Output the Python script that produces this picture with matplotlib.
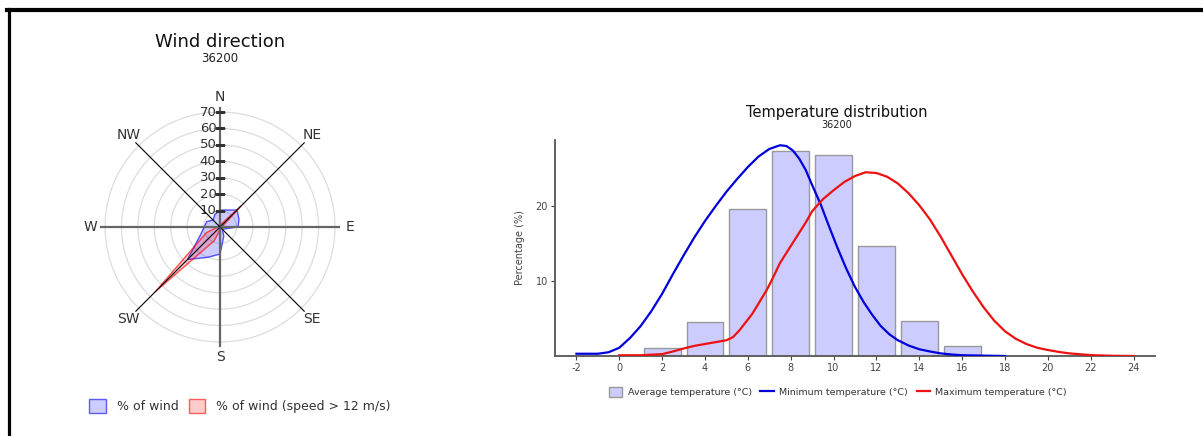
import numpy as np
import matplotlib
matplotlib.use('Agg')
import matplotlib.pyplot as plt
from matplotlib.lines import Line2D
from matplotlib.patches import Patch

plt.rcParams['axes.unicode_minus'] = False

# ---
# Data
# ---
station = '36200'

# wind rose, 16 sectors, % of observations
directions = ['N', 'NNE', 'NE', 'ENE', 'E', 'ESE', 'SE', 'SSE',
              'S', 'SSW', 'SW', 'WSW', 'W', 'WNW', 'NW', 'NNW']
wind_pct = [10.3, 11.2, 14.6, 12.5, 11.0, 3.0, 2.0, 6.0,
            16.5, 20.0, 28.0, 13.0, 9.7, 8.7, 6.0, 8.3]
strong_wind_pct = [1.5, 2.0, 18.5, 2.0, 1.5, 1.0, 1.0, 1.0,
                   1.5, 9.0, 56.0, 9.0, 1.5, 1.0, 1.0, 1.5]
compass = ['N', 'NE', 'E', 'SE', 'S', 'SW', 'W', 'NW']
rings = [10, 20, 30, 40, 50, 60, 70]

# temperature distribution
avg_temp_bins = [2, 4, 6, 8, 10, 12, 14, 16]
avg_temp_pct = [1.1, 4.6, 19.6, 27.3, 26.8, 14.7, 4.7, 1.3]

min_temp_x = [-2.0, -1.5, -1.0, -0.5, 0.0, 0.5, 1.0, 1.5, 2.0, 2.5, 3.0, 3.5,
              4.0, 4.5, 5.0, 5.5, 6.0, 6.5, 7.0, 7.5, 7.8, 8.1, 8.4, 8.7,
              9.0, 9.4, 9.8, 10.2, 10.6, 11.0, 11.4, 11.8, 12.2, 12.6, 13.0,
              13.5, 14.0, 14.5, 15.0, 15.5, 16.0, 17.0, 18.0]
min_temp_y = [0.3, 0.3, 0.3, 0.5, 1.1, 2.4, 4.0, 6.0, 8.3, 10.9, 13.4, 15.8,
              18.0, 20.0, 21.9, 23.6, 25.2, 26.6, 27.6, 28.1, 28.0, 27.4, 26.3, 24.8,
              22.8, 20.2, 17.2, 14.3, 11.6, 9.2, 7.2, 5.5, 4.0, 2.9, 2.1,
              1.4, 0.9, 0.6, 0.35, 0.2, 0.1, 0.05, 0.0]

max_temp_x = [0.0, 1.0, 2.0, 2.5, 3.0, 3.5, 4.0, 4.5, 5.0, 5.3, 5.6, 5.9, 6.2,
              6.5, 6.9, 7.2, 7.5, 7.9, 8.3, 8.7, 9.0, 9.5, 10.0, 10.5, 11.0,
              11.5, 12.0, 12.5, 13.0, 13.5, 14.0, 14.5, 15.0, 15.5, 16.0, 16.5,
              17.0, 17.5, 18.0, 18.5, 19.0, 19.5, 20.0, 20.5, 21.0, 22.0, 23.0, 24.0]
max_temp_y = [0.1, 0.1, 0.25, 0.6, 1.0, 1.35, 1.6, 1.85, 2.1, 2.5, 3.4, 4.5, 5.6,
              7.0, 8.9, 10.6, 12.4, 14.2, 16.0, 17.8, 19.3, 20.9, 22.1, 23.2, 24.0,
              24.5, 24.4, 23.9, 23.0, 21.7, 20.1, 18.2, 15.9, 13.4, 10.9, 8.6,
              6.5, 4.7, 3.3, 2.3, 1.6, 1.1, 0.8, 0.55, 0.35, 0.12, 0.03, 0.0]

fig = plt.figure(figsize=(12.03, 4.36), dpi=100)

# ---
# Wind rose
# ---
ax = fig.add_axes([0.0805, 0.1968, 0.2048, 0.5651], projection='polar')
ax.set_theta_zero_location('N')
ax.set_theta_direction(-1)
ax.set_ylim(0, 75)
ax.set_xticks([])
ax.set_yticks([])
ax.grid(False)
ax.spines['polar'].set_visible(False)
ax.patch.set_alpha(0)

full = np.linspace(0, 2 * np.pi, 361)
for r in rings:
    ax.plot(full, np.full_like(full, r), color='#dddddd', lw=0.9, zorder=1)

theta = np.deg2rad(np.arange(len(directions)) * 360 / len(directions))
theta_c = np.append(theta, theta[0])
wind_c = np.append(wind_pct, wind_pct[0])
strong_c = np.append(strong_wind_pct, strong_wind_pct[0])
ax.fill(theta_c, wind_c, facecolor=(0, 0, 1, 0.2), edgecolor=(0, 0, 1, 0.65), lw=1, zorder=3)
ax.fill(theta_c, strong_c, facecolor=(1, 0, 0, 0.2), edgecolor=(1, 0, 0, 0.65), lw=1, zorder=4)

spoke_r = 72.5
for i, name in enumerate(compass):
    a = np.deg2rad(i * 45)
    if i % 2 == 0:
        ax.plot([a, a], [0, spoke_r], color='#666666', lw=1.6, zorder=5)
    else:
        ax.plot([a, a], [0, spoke_r], color='black', lw=0.8, zorder=5)
    ax.text(a, 79, name, ha='center', va='center', fontsize=10, color='#333333')

for r in rings:
    ax.plot([0], [r], marker='_', markersize=7, markeredgewidth=0.9, color='#333333', zorder=6)
    ax.annotate(str(r), xy=(0, r), xytext=(-2.5, 0), textcoords='offset points',
                ha='right', va='center', fontsize=9.5, color='#333333')

fig.text(220 / 1203, 1 - 42 / 436, 'Wind direction', ha='center', va='center', fontsize=13, color='#111111')
fig.text(220 / 1203, 1 - 58 / 436, station, ha='center', va='center', fontsize=8.5, color='#222222')

wind_handles = [Patch(facecolor=(0, 0, 1, 0.2), edgecolor=(0, 0, 1, 0.6), label='% of wind'),
                Patch(facecolor=(1, 0, 0, 0.2), edgecolor=(1, 0, 0, 0.6), label='% of wind (speed > 12 m/s)')]
fig.legend(handles=wind_handles, loc='center', bbox_to_anchor=(240 / 1203, 1 - 406 / 436),
           ncol=2, frameon=False, fontsize=9, handlelength=1.3, handleheight=1.3,
           handletextpad=0.9, columnspacing=0.8, labelcolor='#333333')

# ---
# Temperature distribution
# ---
ax2 = fig.add_axes([555 / 1203, 1 - 356 / 436, 600 / 1203, 216 / 436])
ax2.bar(avg_temp_bins, avg_temp_pct, width=1.72, color='#ccccff', edgecolor='#999999', lw=1, zorder=2)
ax2.plot(min_temp_x, min_temp_y, color='#0000dd', lw=1.6, zorder=3)
ax2.plot(max_temp_x, max_temp_y, color='#ee1111', lw=1.6, zorder=3)
ax2.set_xlim(-3, 25)
ax2.set_ylim(0, 28.8)
ax2.set_xticks(range(-2, 25, 2))
ax2.set_yticks([10, 20])
for s in ['top', 'right']:
    ax2.spines[s].set_visible(False)
for s in ['left', 'bottom']:
    ax2.spines[s].set_color('#555555')
    ax2.spines[s].set_linewidth(1.3)
ax2.tick_params(labelsize=7, colors='#444444', length=3, width=0.8, pad=2)
ax2.set_ylabel('Percentage (%)', fontsize=7, color='#444444', labelpad=8)

fig.text(837 / 1203, 1 - 113 / 436, 'Temperature distribution', ha='center', va='center', fontsize=10.5, color='#111111')
fig.text(837 / 1203, 1 - 125 / 436, station, ha='center', va='center', fontsize=7, color='#222222')

temp_handles = [Patch(facecolor='#ccccff', edgecolor='#999999', label='Average temperature (°C)'),
                Line2D([], [], color='#0000dd', lw=1.6, label='Minimum temperature (°C)'),
                Line2D([], [], color='#ee1111', lw=1.6, label='Maximum temperature (°C)')]
fig.legend(handles=temp_handles, loc='center', bbox_to_anchor=(838 / 1203, 1 - 392 / 436),
           ncol=3, frameon=False, fontsize=6.8, handlelength=1.4, handleheight=1.3,
           handletextpad=0.6, columnspacing=0.9, labelcolor='#333333')

# frame lines at the top and left edge
fig.add_artist(Line2D([7 / 1203, 1], [1 - 10 / 436, 1 - 10 / 436], color='black', lw=3, transform=fig.transFigure))
fig.add_artist(Line2D([8.5 / 1203, 8.5 / 1203], [0, 1 - 9 / 436], color='black', lw=2.3, transform=fig.transFigure))

fig.savefig('out.png', dpi=100)
